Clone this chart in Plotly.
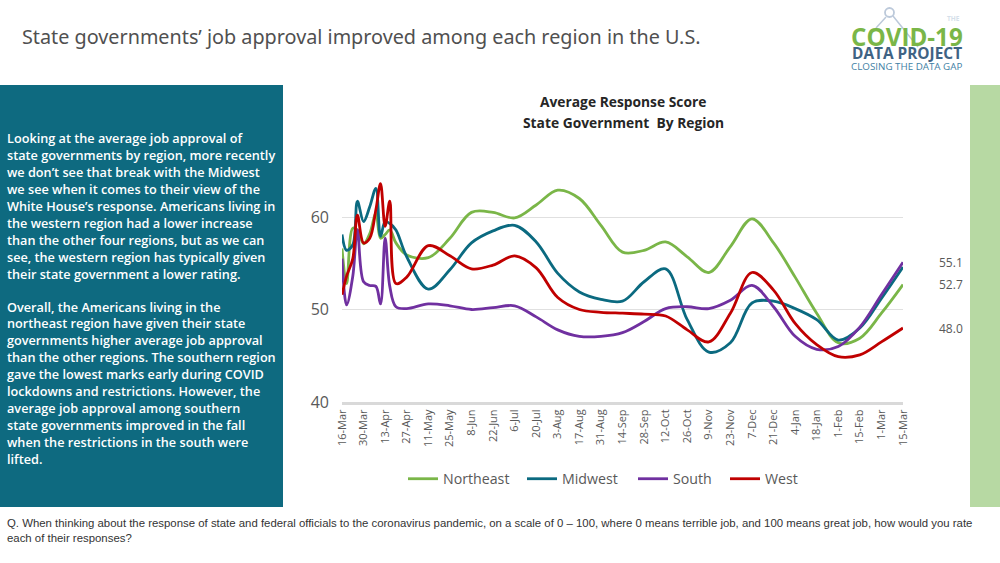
import plotly.graph_objects as go

W, H = 1000, 563

dates = ["2020-03-16","2020-03-19","2020-03-23","2020-03-26","2020-03-30","2020-04-03","2020-04-07",
         "2020-04-10","2020-04-13","2020-04-16","2020-04-20","2020-04-27","2020-05-11","2020-05-25",
         "2020-06-08","2020-06-22","2020-07-06","2020-07-20","2020-08-03","2020-08-17","2020-08-31",
         "2020-09-14","2020-09-28","2020-10-12","2020-10-26","2020-11-09","2020-11-23","2020-12-07",
         "2020-12-21","2021-01-04","2021-01-18","2021-02-01","2021-02-15","2021-03-01","2021-03-15"]

northeast = [56.6,52.8,58.8,58.6,57.1,58.2,60.4,57.7,58.1,58.6,57.2,55.9,55.6,57.7,60.5,60.5,59.9,61.3,
             62.9,62.0,59.1,56.2,56.4,57.3,55.7,54.0,56.8,59.8,57.2,53.5,49.6,46.4,46.9,49.6,52.7]
midwest = [58.1,56.4,57.0,61.7,59.5,61.1,63.1,57.9,59.5,59.3,58.6,55.7,52.2,54.3,57.2,58.5,59.1,57.3,
           53.9,51.9,51.1,50.9,53.0,54.4,48.9,45.4,46.4,50.7,50.9,50.1,48.9,46.7,48.0,51.2,54.6]
south = [55.5,50.5,53.6,58.6,53.0,52.6,52.5,50.6,57.7,52.5,50.3,50.1,50.6,50.4,50.0,50.2,50.4,49.2,
         47.8,47.1,47.1,47.5,48.7,50.1,50.3,50.1,51.0,52.6,50.3,47.1,45.7,46.0,48.1,51.6,55.1]
west = [51.6,53.6,55.5,60.2,57.2,57.7,60.8,63.6,59.0,61.7,52.8,53.5,56.9,55.8,54.4,54.8,55.8,54.5,
        51.3,50.0,49.7,49.6,49.5,49.3,47.8,46.5,49.6,54.0,52.1,48.5,46.2,44.9,45.1,46.5,48.0]

tick_dates = ["2020-03-16","2020-03-30","2020-04-13","2020-04-27","2020-05-11","2020-05-25","2020-06-08",
              "2020-06-22","2020-07-06","2020-07-20","2020-08-03","2020-08-17","2020-08-31","2020-09-14",
              "2020-09-28","2020-10-12","2020-10-26","2020-11-09","2020-11-23","2020-12-07","2020-12-21",
              "2021-01-04","2021-01-18","2021-02-01","2021-02-15","2021-03-01","2021-03-15"]
tick_labels = ["16-Mar","30-Mar","13-Apr","27-Apr","11-May","25-May","8-Jun","22-Jun","6-Jul","20-Jul",
               "3-Aug","17-Aug","31-Aug","14-Sep","28-Sep","12-Oct","26-Oct","9-Nov","23-Nov","7-Dec",
               "21-Dec","4-Jan","18-Jan","1-Feb","15-Feb","1-Mar","15-Mar"]

series = [("Northeast", northeast, "#7AB648", "legend", 403), ("Midwest", midwest, "#0B6A80", "legend2", 522),
          ("South", south, "#7030A0", "legend3", 633), ("West", west, "#C00000", "legend4", 725)]

title = "State governments’ job approval improved among each region in the U.S."
chart_title = ["Average Response Score", "State Government  By Region"]
para1 = ["Looking at the average job approval of", "state governments by region, more recently",
         "we don’t see that break with the Midwest", "we see when it comes to their view of the",
         "White House’s response. Americans living in", "the western region had a lower increase",
         "than the other four regions, but as we can", "see, the western region has typically given",
         "their state government a lower rating."]
para2 = ["Overall, the Americans living in the", "northeast region have given their state",
         "governments higher average job approval", "than the other regions. The southern region",
         "gave the lowest marks early during COVID", "lockdowns and restrictions. However, the",
         "average job approval among southern", "state governments improved in the fall",
         "when the restrictions in the south were", "lifted."]
footer = ["Q. When thinking about the response of state and federal officials to the coronavirus pandemic, on a scale of 0 – 100, where 0 means terrible job, and 100 means great job, how would you rate",
          "each of their responses?"]

def px(x): return x / W
def py(y): return 1 - y / H

fig = go.Figure()
for name, vals, col, leg, _ in series:
    fig.add_trace(go.Scatter(x=dates, y=vals, name=name, mode="lines", legend=leg,
                             line=dict(color=col, width=2.8, shape="spline", smoothing=1.0)))

anns = []
def text(x, y, s, size, color, family="Open Sans", anchor="left", bold=False, weight=None):
    f = dict(size=size, color=color, family=family)
    if weight: f["weight"] = weight
    anns.append(dict(xref="paper", yref="paper", x=px(x), y=py(y), text=f"<b>{s}</b>" if bold else s,
                     showarrow=False, xanchor=anchor, yanchor="middle", align=anchor, font=f))

text(20, 36, title, 19.8, "#505050", "Noto Sans")
for i, s in enumerate(chart_title):
    text(623, 102 + 20 * i, s, 13.8, "#262626", "Open Sans", "center", True)
for i, s in enumerate(para1):
    text(5, 138.5 + 16.9 * i, s, 12.7, "#FFFFFF", "Open Sans", weight=600)
for i, s in enumerate(para2):
    text(5, 306.5 + 16.9 * i, s, 12.7, "#FFFFFF", "Open Sans", weight=600)
for i, s in enumerate(footer):
    text(5, 523 + 14.5 * i, s, 11.4, "#333333", "Liberation Sans")

# end labels, read from the last value of each series
for vals in (south, northeast, west):
    anns.append(dict(xref="x", yref="y", x=dates[-1], y=vals[-1], text=f"{vals[-1]:.1f}", showarrow=False,
                     xanchor="left", xshift=34, font=dict(size=12, color="#595959", family="Open Sans")))

# logo
text(906.5, 36, "COVID-19", 24.2, "#7AB648", "Open Sans", "center", True)
text(906.5, 54, "DATA PROJECT", 15.4, "#3F6384", "Open Sans", "center", True)
text(906.5, 66, "CLOSING THE DATA GAP", 9.8, "#3F7FA5", "Open Sans", "center")
text(953, 18, "THE", 6.5, "#D5DFEA", "Open Sans", "center", True)

def rect(x0, y0, x1, y1, col):
    return dict(type="rect", xref="paper", yref="paper", x0=px(x0), x1=px(x1), y0=py(y0), y1=py(y1),
                fillcolor=col, line=dict(width=0), layer="below")

shapes = [rect(0, 85, 283, 507, "#0E6A80"), rect(970, 85, 1000, 507, "#B7D9A3"),
          dict(type="circle", xref="paper", yref="paper", x0=px(885), x1=px(894), y0=py(8), y1=py(17),
               line=dict(color="#BCC9DA", width=1.8), layer="below"),
          dict(type="line", xref="paper", yref="paper", x0=px(886), x1=px(876), y0=py(17), y1=py(28),
               line=dict(color="#BCC9DA", width=1.5), layer="below"),
          dict(type="line", xref="paper", yref="paper", x0=px(893), x1=px(918), y0=py(16), y1=py(47),
               line=dict(color="#BCC9DA", width=1.5), layer="below")]

legends = {}
for name, vals, col, leg, lx in series:
    legends[leg] = dict(x=px(lx), y=py(479), xanchor="left", yanchor="middle",
                        font=dict(size=14.2, color="#595959", family="Open Sans"),
                        itemwidth=30, bgcolor="rgba(0,0,0,0)")

fig.update_layout(
    width=W, height=H, autosize=False, margin=dict(l=0, r=0, t=0, b=0, autoexpand=False),
    paper_bgcolor="#FFFFFF", plot_bgcolor="#FFFFFF", showlegend=True,
    annotations=anns, shapes=shapes,
    xaxis=dict(domain=[px(342), px(903)], type="date", range=["2020-03-16", "2021-03-15"],
               tickvals=tick_dates, ticktext=tick_labels, tickangle=-90, ticks="", showgrid=False,
               showline=True, linecolor="#D9D9D9", linewidth=3, zeroline=False, automargin=False,
               tickfont=dict(size=11, color="#595959", family="Open Sans")),
    yaxis=dict(domain=[py(402), py(180)], range=[40, 64], tickvals=[40, 50, 60], ticktext=["40", "50", "60"],
               showgrid=True, gridcolor="#E0E0E0", gridwidth=1.2, zeroline=False, showline=False, ticks="",
               automargin=False, ticklabelstandoff=12,
               tickfont=dict(size=16, color="#595959", family="Open Sans")),
    **legends,
)
fig.write_html("out.html", config={"displayModeBar": False},
               post_script="document.body.style.margin='0';")
